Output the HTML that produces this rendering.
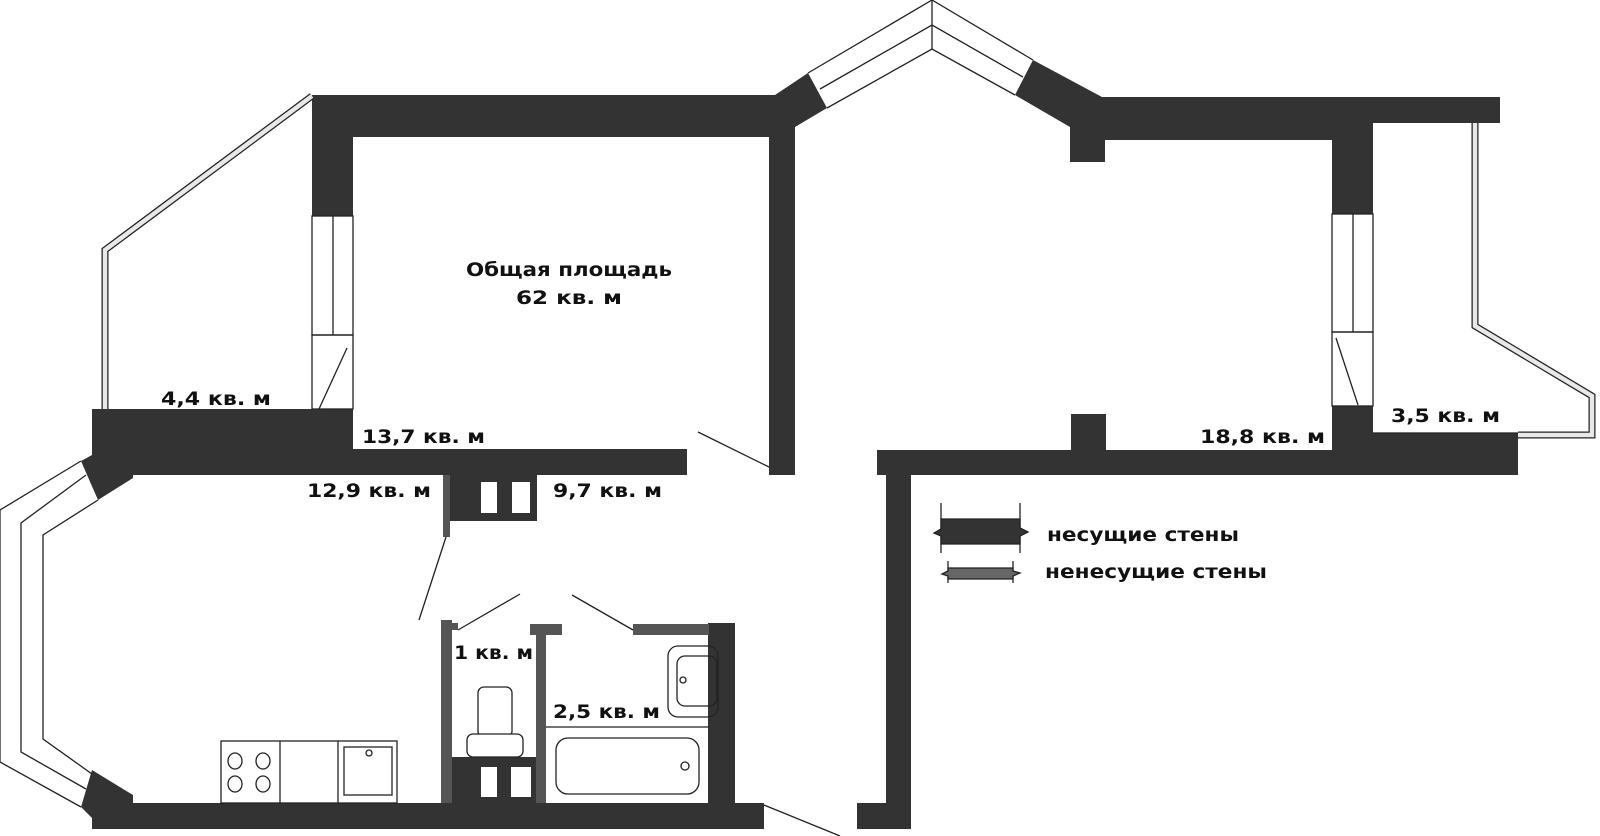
<!DOCTYPE html>
<html><head><meta charset="utf-8"><style>
html,body{margin:0;padding:0;background:#fff}
svg{display:block}
text{font-family:"DejaVu Sans","Liberation Sans",sans-serif;font-weight:bold;font-size:19px;fill:#111}
</style></head><body>
<svg width="1600" height="836" viewBox="0 0 1600 836" xmlns="http://www.w3.org/2000/svg">
<g fill="#333" stroke="none">
<rect x="312" y="95" width="483" height="42"/>
<rect x="312" y="95" width="41" height="121"/>
<rect x="769" y="95" width="26" height="380"/>
<polygon points="760,95 775,95 808,73 827,108 795,127 795,137 760,137"/>
<polygon points="92,409 353,409 353,449 687,449 687,475 133,475 133,478 98,500 81,461 92,455"/>
<polygon points="92,770 133,795 133,803 764,803 764,829 92,829 92,818 81,807"/>
<rect x="708" y="623" width="27" height="190"/>
<rect x="450" y="475" width="87" height="46"/>
<rect x="452" y="757" width="84" height="50"/>
<polygon points="1033,60 1102,97 1500,97 1500,123 1373,123 1373,214 1332,214 1332,140 1105,140 1105,162 1070,162 1070,127 1015,95"/>
<rect x="1332" y="406" width="41" height="69"/>
<rect x="1332" y="433" width="186" height="42"/>
<rect x="877" y="450" width="641" height="25"/>
<rect x="1071" y="414" width="35" height="40"/>
<rect x="886" y="450" width="25" height="379"/>
<rect x="857" y="803" width="54" height="26"/>
</g>
<g fill="#fff">
<rect x="481" y="482" width="16" height="31"/><rect x="512" y="482" width="18" height="31"/>
<rect x="481" y="767" width="16" height="30"/><rect x="511" y="767" width="20" height="30"/>
</g>
<g fill="#555">
<rect x="443" y="475" width="7" height="62"/>
<rect x="441" y="620" width="11" height="183"/><rect x="452" y="623" width="6" height="7"/>
<rect x="536" y="624" width="10" height="179"/><rect x="530" y="624" width="32" height="11"/>
<rect x="633" y="624" width="76" height="11"/>
</g>
<g fill="none" stroke="#222" stroke-width="1.3">
<rect x="312" y="216" width="41" height="119"/><line x1="333" y1="216" x2="333" y2="335"/>
<rect x="312" y="335" width="41" height="74"/><line x1="347" y1="348" x2="319" y2="409"/>
<polyline points="808,73 932,0 1033,60"/><polyline points="820,89 932,25 1023,77"/>
<polyline points="827,108 932,49 1015,95"/><line x1="932" y1="0" x2="932" y2="49"/>
<rect x="1332" y="214" width="41" height="118"/><line x1="1353" y1="214" x2="1353" y2="332"/>
<rect x="1332" y="332" width="41" height="74"/><line x1="1336" y1="338" x2="1358" y2="405"/>
<line x1="1373" y1="433" x2="1518" y2="433"/>
<polyline points="81,461 0,510 0,762 81,807"/>
<polyline points="86,475 21,523 21,752 86,789"/>
<polyline points="98,500 43,535 43,739 92,774"/>
<line x1="698" y1="432" x2="769" y2="467"/>
<line x1="446" y1="537" x2="419" y2="620"/>
<line x1="458" y1="630" x2="520" y2="594"/>
<line x1="572" y1="595" x2="633" y2="630"/>
<line x1="764" y1="805" x2="840" y2="836"/>
<rect x="478" y="687" width="34" height="50" rx="6"/>
<rect x="467" y="734" width="56" height="23" rx="6" fill="#fff"/>
<line x1="546" y1="727" x2="709" y2="727"/>
<rect x="556" y="738" width="143" height="56" rx="12"/>
<circle cx="685" cy="766" r="4"/>
<rect x="668" y="646" width="50" height="71" rx="10"/>
<rect x="677" y="656" width="40" height="50" rx="8"/>
<circle cx="683" cy="680" r="3"/>
<rect x="221" y="741" width="176" height="62"/>
<line x1="280" y1="741" x2="280" y2="803"/><line x1="338" y1="741" x2="338" y2="803"/>
<ellipse cx="235" cy="761" rx="7" ry="8"/><ellipse cx="263" cy="761" rx="7" ry="8"/>
<ellipse cx="235" cy="784" rx="7" ry="8"/><ellipse cx="263" cy="784" rx="7" ry="8"/>
<rect x="344" y="747" width="48" height="48"/><circle cx="369" cy="753" r="3"/>
</g>
<g fill="none">
<polyline points="312,96 105,250 105,409" stroke="#222" stroke-width="7"/>
<polyline points="312,96 105,250 105,409" stroke="#e8e8e8" stroke-width="4.5"/>
<polyline points="1475,123 1475,326 1592,396 1592,435 1518,435" stroke="#222" stroke-width="7"/>
<polyline points="1475,123 1475,326 1592,396 1592,435 1518,435" stroke="#e8e8e8" stroke-width="4.5"/>
</g>
<text x="569" y="276" text-anchor="middle" textLength="206" lengthAdjust="spacingAndGlyphs">Общая площадь</text>
<text x="569" y="304" text-anchor="middle" textLength="106" lengthAdjust="spacingAndGlyphs">62 кв. м</text>
<text x="161" y="405" textLength="110" lengthAdjust="spacingAndGlyphs">4,4 кв. м</text>
<text x="362" y="443" textLength="123" lengthAdjust="spacingAndGlyphs">13,7 кв. м</text>
<text x="307" y="497" textLength="124" lengthAdjust="spacingAndGlyphs">12,9 кв. м</text>
<text x="553" y="497" textLength="109" lengthAdjust="spacingAndGlyphs">9,7 кв. м</text>
<text x="1200" y="443" textLength="125" lengthAdjust="spacingAndGlyphs">18,8 кв. м</text>
<text x="1391" y="422" textLength="109" lengthAdjust="spacingAndGlyphs">3,5 кв. м</text>
<text x="454" y="659" textLength="79" lengthAdjust="spacingAndGlyphs">1 кв. м</text>
<text x="553" y="718" textLength="107" lengthAdjust="spacingAndGlyphs">2,5 кв. м</text>
<g stroke="#222" stroke-width="1.3">
<line x1="941" y1="503" x2="941" y2="553"/><line x1="1020" y1="503" x2="1020" y2="553"/>
<polygon fill="#333" points="941,519 1020,519 1020,528 1028,532 1020,536 1020,544 941,544 941,536 934,533 941,529"/>
<line x1="948" y1="561" x2="948" y2="583"/><line x1="1013" y1="561" x2="1013" y2="583"/>
<polygon fill="#666" points="948,568 1013,568 1013,571 1020,573 1013,576 1013,579 948,579 948,576 942,574 948,571"/>
</g>
<text x="1047" y="541" textLength="192" lengthAdjust="spacingAndGlyphs">несущие стены</text>
<text x="1045" y="578" textLength="222" lengthAdjust="spacingAndGlyphs">ненесущие стены</text>
</svg>
</body></html>
